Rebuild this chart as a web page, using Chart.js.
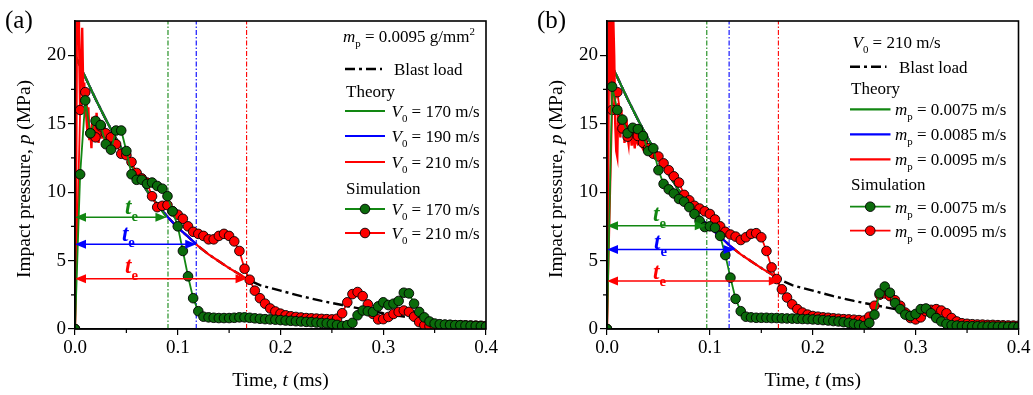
<!DOCTYPE html>
<html>
<head>
<meta charset="utf-8">
<script src="https://cdn.jsdelivr.net/npm/chart.js@4.4.1/dist/chart.umd.min.js"></script>
<style>
html, body { margin: 0; padding: 0; background: #fff; }
#wrap { position: relative; width: 1033px; height: 395px; }
.pane { position: absolute; top: 0; height: 395px; }
#pa { left: 0; width: 516px; }
#pb { left: 516px; width: 517px; }
</style>
</head>
<body>
<div id="wrap">
  <div class="pane" id="pa"><canvas id="chartA"></canvas></div>
  <div class="pane" id="pb"><canvas id="chartB"></canvas></div>
</div>
<script>
// ---- data ----
const simTime = [
  0, 0.005, 0.01, 0.015, 0.02, 0.025, 0.03, 0.035, 0.04, 0.045,
  0.05, 0.055, 0.06, 0.065, 0.07, 0.075, 0.08, 0.085, 0.09, 0.095,
  0.1, 0.105, 0.11, 0.115, 0.12, 0.125, 0.13, 0.135, 0.14, 0.145,
  0.15, 0.155, 0.16, 0.165, 0.17, 0.175, 0.18, 0.185, 0.19, 0.195,
  0.2, 0.205, 0.21, 0.215, 0.22, 0.225, 0.23, 0.235, 0.24, 0.245,
  0.25, 0.255, 0.26, 0.265, 0.27, 0.275, 0.28, 0.285, 0.29, 0.295,
  0.3, 0.305, 0.31, 0.315, 0.32, 0.325, 0.33, 0.335, 0.34, 0.345,
  0.35, 0.355, 0.36, 0.365, 0.37, 0.375, 0.38, 0.385, 0.39, 0.395, 0.4
];

// (a) simulation, V0 = 170 m/s and V0 = 210 m/s
const simGreenA = [
  0, 11.3, 16.7, 14.3, 15.2, 14.9, 13.5, 13.1, 14.5, 14.5,
  13.0, 11.3, 10.9, 10.9, 10.6, 10.7, 10.45, 10.25, 9.7, 8.6,
  7.5, 5.7, 3.85, 2.25, 1.3, 0.9, 0.85, 0.82, 0.8, 0.8,
  0.8, 0.82, 0.85, 0.85, 0.82, 0.78, 0.75, 0.72, 0.7, 0.68,
  0.65, 0.62, 0.6, 0.57, 0.55, 0.52, 0.5, 0.47, 0.44, 0.42,
  0.38, 0.3, 0.22, 0.28, 0.45, 1.0, 1.35, 1.3, 1.25, 1.65,
  1.95, 1.75, 1.85, 2.05, 2.65, 2.6, 1.85, 1.25, 0.85, 0.55,
  0.4, 0.35, 0.32, 0.3, 0.28, 0.27, 0.25, 0.23, 0.22, 0.2, 0.18
];
const simRedA = [
  0, 16.0, 17.3, 14.3, 14.0, 14.8, 14.3, 14.0, 13.5, 12.8,
  12.7, 12.2, 11.4, 11.0, 10.7, 9.7, 8.9, 9.0, 9.05, 8.6,
  8.35, 8.05, 7.5, 7.1, 6.95, 6.8, 6.55, 6.55, 6.8, 6.95,
  6.8, 6.4, 5.7, 4.4, 3.6, 2.8, 2.25, 1.85, 1.5, 1.28,
  1.12, 1.0, 0.93, 0.88, 0.84, 0.8, 0.78, 0.76, 0.74, 0.72,
  0.7, 0.75, 1.15, 1.95, 2.55, 2.7, 2.4, 1.8, 1.1, 0.7,
  0.72, 0.88, 1.1, 1.25, 1.35, 1.25, 0.9, 0.5, 0.28, 0.2,
  0.25, 0.3, 0.3, 0.3, 0.28, 0.28, 0.27, 0.26, 0.25, 0.24, 0.22
];

// (b) simulation, mp = 0.0075 and mp = 0.0095
const simGreenB = [
  0, 17.7, 16.0, 15.3, 14.3, 14.7, 14.6, 14.1, 13.0, 13.2,
  11.6, 10.6, 10.2, 9.9, 9.5, 9.3, 8.9, 8.4, 7.9, 7.45,
  7.5, 7.4, 6.8, 5.4, 3.75, 2.2, 1.3, 0.9, 0.85, 0.82,
  0.82, 0.82, 0.8, 0.8, 0.78, 0.77, 0.76, 0.75, 0.73, 0.72,
  0.7, 0.68, 0.65, 0.62, 0.58, 0.55, 0.5, 0.45, 0.38, 0.3,
  0.22, 0.45, 1.05, 2.6, 3.1, 2.65, 1.9, 1.45, 1.05, 0.95,
  1.1, 1.45, 1.5, 1.15, 0.8, 0.55, 0.38, 0.28, 0.25, 0.22,
  0.2, 0.2, 0.2, 0.18, 0.18, 0.18, 0.17, 0.17, 0.16, 0.16, 0.15
];
const simRedB = [
  0, 16.0, 17.3, 14.65, 14.05, 14.6, 14.1, 13.6, 13.2, 12.8,
  12.6, 12.1, 11.6, 11.15, 10.7, 9.8, 9.4, 9.0, 8.8, 8.6,
  8.4, 8.0, 7.5, 7.1, 6.9, 6.75, 6.5, 6.7, 6.95, 7.0,
  6.7, 5.7, 4.5, 3.65, 2.9, 2.3, 1.8, 1.45, 1.2, 1.05,
  0.95, 0.9, 0.85, 0.82, 0.78, 0.75, 0.72, 0.7, 0.68, 0.65,
  0.62, 0.9, 1.7, 2.5, 2.6, 2.4, 2.1, 1.7, 1.2, 0.8,
  0.7, 0.85, 1.3, 1.4, 1.45, 1.35, 1.15, 0.8, 0.55, 0.42,
  0.38, 0.35, 0.33, 0.32, 0.3, 0.3, 0.28, 0.27, 0.26, 0.25, 0.24
];

// raw (unmarked) simulation trace of the red run near t = 0
const rawTime = [
  0, 0.001, 0.002, 0.003, 0.004, 0.005, 0.006, 0.007, 0.008, 0.009,
  0.01, 0.011, 0.012, 0.013, 0.014, 0.015, 0.016, 0.017, 0.018, 0.019,
  0.02, 0.021, 0.022, 0.023, 0.024, 0.025, 0.026, 0.027, 0.028, 0.029,
  0.03, 0.032, 0.034, 0.036
];
const rawRedA = [
  0, 9, 26, 30, 21, 16, 19, 22, 17.5, 18,
  16, 15.5, 14.5, 16.2, 13.8, 14.6, 13.2, 15.5, 14.2, 14.8,
  13.9, 15.8, 14.5, 13.6, 15.2, 14.6, 13.9, 15.0, 14.3, 13.8,
  14.2, 14.0, 13.9, 13.5
];
const rawRedB = [
  0, 8, 24, 28, 18, 16, 23, 20, 15, 13,
  12.6, 16.5, 15.2, 14.0, 16.0, 14.3, 15.2, 13.6, 14.5, 15.3,
  14.0, 13.5, 14.8, 14.2, 13.4, 14.6, 13.8, 13.2, 14.4, 13.7,
  13.5, 13.6, 13.3, 13.0
];

// blast load (same in both panels)
const blastTime = [0, 0.01, 0.02, 0.03, 0.04, 0.05, 0.06, 0.07, 0.08, 0.09, 0.1, 0.11, 0.12, 0.13, 0.14, 0.15, 0.16,
                   0.167, 0.18, 0.2, 0.22, 0.24, 0.26, 0.28, 0.3, 0.32, 0.335];
const blastP = [20, 18.4, 16.8, 15.3, 13.9, 12.6, 11.3, 10.1, 9.1, 8.2, 7.4, 6.75, 6.05, 5.45, 4.95, 4.45, 4.0,
                3.65, 3.2, 2.8, 2.4, 2.05, 1.75, 1.45, 1.15, 0.9, 0.75];

// release times t_e (arrow end) and the pressure there, per theory curve: green, blue, red
const releaseA = [0.089, 0.118, 0.167];
const releasePA = [8.17, 6.2, 3.67];
const releaseB = [0.096, 0.124, 0.168];
const releasePB = [7.54, 5.8, 3.5];
// dash-dot marker lines
const vlineA = [0.0905, 0.118, 0.167];
const vlineB = [0.097, 0.1187, 0.1666];

const xTicks = [0, 0.1, 0.2, 0.3, 0.4];
const yTicks = [0, 5, 10, 15, 20];

// ---- styling ----
const serif = '"Liberation Serif", "Times New Roman", serif';
const GREEN = '#128712';
const GREEN_M = '#0b6b0b';
const BLUE = '#0000ff';
const RED = '#ff0000';
const COLS = [GREEN, BLUE, RED];

function pts(t, p) {
  return t.map((v, i) => ({ x: v, y: p[i] }));
}

function theoryPts(endT, endP) {
  const out = [];
  blastTime.forEach((t, i) => { if (t < endT - 1e-9) out.push({ x: t, y: blastP[i] }); });
  out.push({ x: endT, y: endP });
  return out;
}

function buildDatasets(simG, simR, raw, relT, relP, vl) {
  const ds = [];
  ds.push({ data: pts(simTime, simG), borderColor: GREEN, borderWidth: 1.8, pointRadius: 4.8,
            pointBackgroundColor: GREEN_M, pointBorderColor: '#000', pointBorderWidth: 0.9 });
  ds.push({ data: pts(simTime, simR), borderColor: RED, borderWidth: 1.8, pointRadius: 4.8,
            pointBackgroundColor: RED, pointBorderColor: '#000', pointBorderWidth: 0.9 });
  ds.push({ data: pts(rawTime, raw), borderColor: RED, borderWidth: 2.4, pointRadius: 0, clip: 0 });
  for (let i = 0; i < 3; i++) {
    ds.push({ data: theoryPts(relT[i], relP[i]), borderColor: COLS[i], borderWidth: 2.2, pointRadius: 0 });
  }
  ds.push({ data: pts(blastTime, blastP), borderColor: '#000', borderWidth: 2.4, pointRadius: 0,
            borderDash: [10, 4, 3, 4] });
  for (let i = 0; i < 3; i++) {
    ds.push({ data: [{ x: vl[i], y: 0 }, { x: vl[i], y: 22.5 }], borderColor: COLS[i], borderWidth: 1.1,
              pointRadius: 0, borderDash: [5, 2, 1.5, 2] });
  }
  return ds;
}

// ---- rich text helper (italic, bold, sub/superscript) ----
function flags(st) { return (st || '').split(' '); }
function fontFor(st, size) {
  const f = flags(st);
  let fs = size;
  if (f.includes('sub') || f.includes('sup')) fs = size * 0.64;
  return (f.includes('i') ? 'italic ' : '') + (f.includes('b') ? 'bold ' : '') + fs.toFixed(1) + 'px ' + serif;
}
function richWidth(ctx, parts, size) {
  let w = 0;
  parts.forEach(([t, st]) => { ctx.font = fontFor(st, size); w += ctx.measureText(t).width; });
  return w;
}
function drawRich(ctx, x, y, parts, size, color, align) {
  let cx = x;
  if (align === 'center') cx = x - richWidth(ctx, parts, size) / 2;
  ctx.fillStyle = color;
  ctx.textBaseline = 'alphabetic';
  ctx.textAlign = 'left';
  parts.forEach(([t, st]) => {
    const f = flags(st);
    let dy = 0;
    if (f.includes('sub')) dy = size * 0.3;
    if (f.includes('sup')) dy = -size * 0.42;
    ctx.font = fontFor(st, size);
    ctx.fillText(t, cx, y + dy);
    cx += ctx.measureText(t).width;
  });
}

function arrowHead(ctx, x, y, dir, color) {
  ctx.fillStyle = color;
  ctx.beginPath();
  ctx.moveTo(x, y);
  ctx.lineTo(x - dir * 11, y - 4.5);
  ctx.lineTo(x - dir * 11, y + 4.5);
  ctx.closePath();
  ctx.fill();
}

const panels = {
  chartA: {
    letter: '(a)', letterX: 5, yTitleX: 23,
    relT: releaseA, relP: releasePA,
    teLab: [[0.055, 8.85], [0.052, 6.9], [0.055, 4.5]],
    legend: {
      lineX: 345, lineLen: 40, textX: 391.5, blastLen: 37, blastTextX: 394, hdrX: 343,
      header: [['m', 'i'], ['p', 'sub'], [' = 0.0095 g/mm', ''], ['2', 'sup']],
      ys: [36, 69, 91, 111, 136, 162, 188, 209, 233],
      theory: [[['V', 'i'], ['0', 'sub'], [' = 170 m/s', '']],
               [['V', 'i'], ['0', 'sub'], [' = 190 m/s', '']],
               [['V', 'i'], ['0', 'sub'], [' = 210 m/s', '']]],
      sim: [[['V', 'i'], ['0', 'sub'], [' = 170 m/s', '']],
            [['V', 'i'], ['0', 'sub'], [' = 210 m/s', '']]]
    }
  },
  chartB: {
    letter: '(b)', letterX: 21, yTitleX: 39,
    relT: releaseB, relP: releasePB,
    teLab: [[0.051, 8.35], [0.052, 6.3], [0.051, 4.1]],
    legend: {
      lineX: 334, lineLen: 40.5, textX: 379, blastLen: 36.5, blastTextX: 383, hdrX: 336.5,
      header: [['V', 'i'], ['0', 'sub'], [' = 210 m/s', '']],
      ys: [41.5, 66.7, 88.3, 109.3, 134.3, 159.3, 184.3, 206.7, 230.7],
      theory: [[['m', 'i'], ['p', 'sub'], [' = 0.0075 m/s', '']],
               [['m', 'i'], ['p', 'sub'], [' = 0.0085 m/s', '']],
               [['m', 'i'], ['p', 'sub'], [' = 0.0095 m/s', '']]],
      sim: [[['m', 'i'], ['p', 'sub'], [' = 0.0075 m/s', '']],
            [['m', 'i'], ['p', 'sub'], [' = 0.0095 m/s', '']]]
    }
  }
};

const panelPlugin = {
  id: 'panelDecor',
  afterDatasetsDraw(chart) {
    const cfg = panels[chart.canvas.id];
    const ctx = chart.ctx;
    const xs = chart.scales.x, ys = chart.scales.y;
    // double arrows for t_e
    for (let i = 0; i < 3; i++) {
      const y = ys.getPixelForValue(cfg.relP[i]);
      const x0 = xs.getPixelForValue(0), x1 = xs.getPixelForValue(cfg.relT[i]);
      ctx.save();
      ctx.strokeStyle = COLS[i];
      ctx.lineWidth = 1.5;
      ctx.beginPath();
      ctx.moveTo(x0 + 6, y);
      ctx.lineTo(x1 - 6, y);
      ctx.stroke();
      arrowHead(ctx, x0, y, -1, COLS[i]);
      arrowHead(ctx, x1, y, 1, COLS[i]);
      const [lt, lp] = cfg.teLab[i];
      drawRich(ctx, xs.getPixelForValue(lt), ys.getPixelForValue(lp) + 6,
               [['t', 'b i'], ['e', 'b sub']], 23, COLS[i], 'center');
      ctx.restore();
    }
  },
  afterDraw(chart) {
    const cfg = panels[chart.canvas.id];
    const ctx = chart.ctx;
    const a = chart.chartArea;
    const xs = chart.scales.x, ys = chart.scales.y;
    ctx.save();
    // frame
    ctx.strokeStyle = '#000';
    ctx.lineWidth = 1.6;
    ctx.strokeRect(a.left, a.top, a.right - a.left, a.bottom - a.top);
    // minor ticks
    ctx.lineWidth = 1.2;
    ctx.beginPath();
    [0.05, 0.15, 0.25, 0.35].forEach(v => {
      const x = xs.getPixelForValue(v);
      ctx.moveTo(x, a.bottom); ctx.lineTo(x, a.bottom + 4);
    });
    [2.5, 7.5, 12.5, 17.5].forEach(v => {
      const y = ys.getPixelForValue(v);
      ctx.moveTo(a.left, y); ctx.lineTo(a.left - 4, y);
    });
    ctx.stroke();
    // panel letter
    drawRich(ctx, cfg.letterX, 28, [[cfg.letter, '']], 25, '#000');
    // axis titles
    drawRich(ctx, (a.left + a.right) / 2, 386, [['Time, ', ''], ['t', 'i'], [' (ms)', '']], 19.5, '#000', 'center');
    ctx.save();
    ctx.translate(cfg.yTitleX + 7, (a.top + a.bottom) / 2 + 4);
    ctx.rotate(-Math.PI / 2);
    drawRich(ctx, 0, 0, [['Impact pressure, ', ''], ['p', 'i'], [' (MPa)', '']], 19.5, '#000', 'center');
    ctx.restore();
    // legend
    const L = cfg.legend, Y = L.ys, fs = 17;
    drawRich(ctx, L.hdrX, Y[0] + 6, L.header, fs, '#000');
    ctx.strokeStyle = '#000';
    ctx.lineWidth = 2.4;
    ctx.setLineDash([10, 4, 3, 4]);
    ctx.beginPath(); ctx.moveTo(L.lineX, Y[1]); ctx.lineTo(L.lineX + L.blastLen, Y[1]); ctx.stroke();
    ctx.setLineDash([]);
    drawRich(ctx, L.blastTextX, Y[1] + 6, [['Blast load', '']], fs, '#000');
    drawRich(ctx, L.lineX + 1, Y[2] + 6, [['Theory', '']], fs, '#000');
    for (let i = 0; i < 3; i++) {
      const y = Y[3 + i];
      ctx.strokeStyle = COLS[i];
      ctx.lineWidth = 2.2;
      ctx.beginPath(); ctx.moveTo(L.lineX, y); ctx.lineTo(L.lineX + L.lineLen, y); ctx.stroke();
      drawRich(ctx, L.textX, y + 6, L.theory[i], fs, '#000');
    }
    drawRich(ctx, L.lineX + 1, Y[6] + 6, [['Simulation', '']], fs, '#000');
    const simCols = [[GREEN, GREEN_M], [RED, RED]];
    for (let i = 0; i < 2; i++) {
      const y = Y[7 + i];
      ctx.strokeStyle = simCols[i][0];
      ctx.lineWidth = 1.8;
      ctx.beginPath(); ctx.moveTo(L.lineX, y); ctx.lineTo(L.lineX + L.lineLen, y); ctx.stroke();
      ctx.fillStyle = simCols[i][1];
      ctx.beginPath(); ctx.arc(L.lineX + L.lineLen / 2, y, 4.8, 0, Math.PI * 2); ctx.fill();
      ctx.strokeStyle = '#000'; ctx.lineWidth = 0.9; ctx.stroke();
      drawRich(ctx, L.textX, y + 6, L.sim[i], fs, '#000');
    }
    ctx.restore();
  }
};

function makeChart(id, datasets, yWidth, padRight) {
  return new Chart(document.getElementById(id), {
    type: 'line',
    data: { datasets },
    options: {
      responsive: true,
      maintainAspectRatio: false,
      animation: false,
      devicePixelRatio: 1,
      events: [],
      layout: { padding: { top: 21, right: padRight, left: 0, bottom: 0 } },
      plugins: { legend: { display: false }, tooltip: { enabled: false } },
      scales: {
        x: {
          type: 'linear', min: 0, max: 0.4,
          afterFit: s => { s.height = 66; },
          afterBuildTicks: s => { s.ticks = xTicks.map(v => ({ value: v })); },
          ticks: { color: '#000', font: { family: serif, size: 19 }, padding: 2, maxRotation: 0,
                   autoSkip: false, callback: v => v.toFixed(1) },
          grid: { drawOnChartArea: false, tickLength: 6, color: '#000', lineWidth: 1.2 },
          border: { color: '#000', width: 1.6 }
        },
        y: {
          min: 0, max: 22.5,
          afterFit: s => { s.width = yWidth; },
          afterBuildTicks: s => { s.ticks = yTicks.map(v => ({ value: v })); },
          ticks: { color: '#000', font: { family: serif, size: 19 }, padding: 2,
                   callback: v => String(v) },
          grid: { drawOnChartArea: false, tickLength: 7, color: '#000', lineWidth: 1.2 },
          border: { color: '#000', width: 1.6 }
        }
      }
    },
    plugins: [panelPlugin]
  });
}

makeChart('chartA', buildDatasets(simGreenA, simRedA, rawRedA, releaseA, releasePA, vlineA), 75, 30);
makeChart('chartB', buildDatasets(simGreenB, simRedB, rawRedB, releaseB, releasePB, vlineB), 91, 14.5);
</script>
</body>
</html>
